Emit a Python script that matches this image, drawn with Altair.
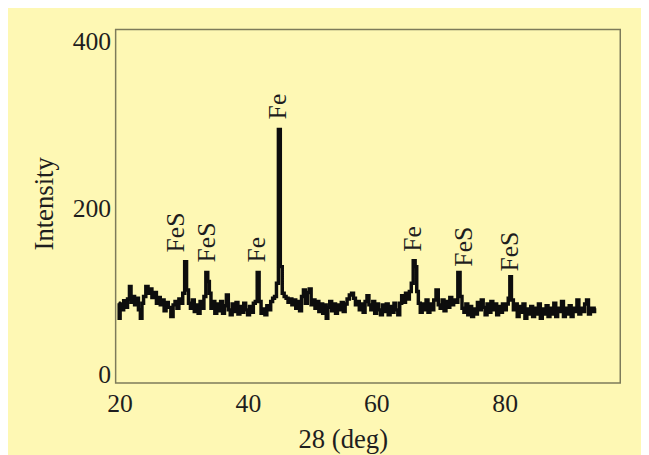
import altair as alt
import pandas as pd

two_theta = [
    19.9, 20.0, 20.2, 20.5, 20.8, 21.1, 21.4, 21.7, 21.9, 22.2,
    22.5, 22.8, 23.1, 23.4, 23.6, 23.9, 24.3, 24.6, 24.9, 25.2,
    25.6, 25.9, 26.2, 26.5, 26.8, 27.1, 27.4, 27.8, 28.2, 28.5,
    28.8, 29.1, 29.4, 29.7, 30.0, 30.3, 30.6, 30.9, 31.2, 31.5,
    31.8, 32.1, 32.4, 32.7, 33.0, 33.3, 33.6, 33.9, 34.1, 34.4,
    34.7, 35.0, 35.3, 35.6, 35.9, 36.2, 36.5, 36.8, 37.1, 37.4,
    37.7, 38.0, 38.3, 38.6, 38.9, 39.2, 39.5, 39.8, 40.1, 40.4,
    40.7, 41.0, 41.3, 41.6, 41.9, 42.2, 42.5, 42.8, 43.1, 43.4,
    43.7, 44.0, 44.3, 44.6, 44.9, 45.2, 45.5, 45.8, 46.1, 46.4,
    46.7, 47.0, 47.3, 47.6, 47.9, 48.2, 48.5, 48.8, 49.1, 49.4,
    49.7, 50.0, 50.3, 50.6, 50.9, 51.2, 51.5, 51.8, 52.1, 52.3,
    52.6, 52.9, 53.2, 53.5, 53.8, 54.1, 54.4, 54.7, 55.0, 55.3,
    55.6, 56.0, 56.3, 56.6, 56.9, 57.2, 57.5, 57.8, 58.1, 58.4,
    58.7, 59.0, 59.3, 59.6, 59.9, 60.2, 60.5, 60.8, 61.1, 61.4,
    61.7, 62.0, 62.3, 62.6, 62.9, 63.2, 63.5, 63.8, 64.1, 64.4,
    64.7, 65.0, 65.3, 65.6, 65.9, 66.2, 66.4, 66.7, 67.0, 67.3,
    67.6, 67.9, 68.2, 68.5, 68.8, 69.1, 69.5, 69.8, 70.1, 70.4,
    70.7, 71.0, 71.3, 71.6, 71.9, 72.2, 72.5, 72.9, 73.2, 73.5,
    73.8, 74.1, 74.4, 74.7, 75.0, 75.3, 75.6, 75.9, 76.2, 76.5,
    76.8, 77.1, 77.4, 77.7, 78.0, 78.3, 78.6, 78.9, 79.2, 79.5,
    79.8, 80.1, 80.4, 80.7, 80.9, 81.2, 81.5, 81.8, 82.1, 82.4,
    82.7, 83.0, 83.3, 83.6, 83.9, 84.2, 84.5, 84.8, 85.1, 85.4,
    85.7, 86.0, 86.3, 86.6, 86.9, 87.2, 87.5, 87.8, 88.1, 88.4,
    88.7, 89.0, 89.3, 89.6, 89.9, 90.2, 90.5, 90.8, 91.1, 91.4,
    91.7, 92.0, 92.3, 92.6, 92.9, 93.2, 93.5, 93.8, 94.2,
]

intensity = [
    86, 68, 85, 78, 89, 81, 91, 106, 87, 94,
    84, 92, 78, 68, 86, 94, 106, 98, 103, 93,
    99, 86, 93, 84, 90, 77, 87, 81, 70, 84,
    88, 80, 91, 86, 98, 136, 102, 86, 80, 90,
    76, 84, 74, 88, 80, 94, 123, 112, 98, 80,
    88, 74, 85, 77, 88, 74, 83, 96, 78, 72,
    85, 76, 87, 73, 82, 75, 86, 78, 72, 82,
    75, 86, 88, 123, 88, 74, 79, 72, 83, 78,
    88, 92, 94, 110, 295, 130, 98, 94, 92, 87,
    91, 84, 90, 80, 88, 77, 94, 102, 86, 99,
    103, 84, 90, 80, 88, 76, 85, 74, 84, 68,
    81, 88, 77, 85, 74, 84, 78, 87, 76, 85,
    91, 96, 98, 92, 84, 88, 78, 85, 75, 88,
    95, 84, 78, 88, 74, 85, 78, 72, 84, 76,
    85, 72, 82, 75, 86, 78, 72, 86, 95, 87,
    98, 91, 100, 110, 137, 130, 100, 86, 75, 85,
    78, 90, 75, 85, 78, 90, 102, 84, 80, 90,
    77, 88, 81, 93, 84, 90, 87, 123, 94, 80,
    75, 85, 72, 82, 70, 79, 73, 87, 78, 90,
    81, 72, 85, 75, 88, 78, 85, 72, 82, 75,
    85, 78, 85, 92, 118, 90, 78, 85, 70, 82,
    75, 85, 68, 79, 73, 82, 70, 80, 73, 85,
    68, 79, 73, 83, 70, 80, 73, 86, 70, 80,
    76, 88, 70, 80, 73, 83, 70, 80, 76, 90,
    73, 80, 76, 85, 90, 73, 80, 76, 80,
]

peak_labels = ["FeS", "FeS", "Fe", "Fe", "Fe", "FeS", "FeS"]
peak_label_x = [28.8, 33.6, 41.5, 44.7, 65.8, 73.7, 80.9]
peak_label_y = [147, 135, 135, 307, 148, 130, 124]

x_ticks = [20, 40, 60, 80]
y_ticks = [0, 200, 400]

df = pd.DataFrame({"two_theta": two_theta, "intensity": intensity})
lab = pd.DataFrame({"two_theta": peak_label_x, "intensity": peak_label_y, "label": peak_labels})

SERIF = "Liberation Serif"
TXT = "#1e1e1e"

x_enc = alt.X(
    "two_theta:Q",
    scale=alt.Scale(domain=[19.4, 98], nice=False, zero=False),
    axis=alt.Axis(
        values=x_ticks, title="28 (deg)", labelPadding=8,
        titleX=230, titleY=57, titleAlign="center", titleBaseline="middle",
    ),
)
y_enc = alt.Y(
    "intensity:Q",
    scale=alt.Scale(domain=[-10, 415], nice=False, zero=False),
    axis=alt.Axis(
        values=y_ticks, title="Intensity", labelPadding=5,
        titleX=-72, titleY=176, titleAngle=270, titleAlign="center", titleBaseline="middle",
    ),
)

line = alt.Chart(df).mark_line(
    color="#0d0d0d", strokeWidth=3.5, interpolate="step", clip=True
).encode(x=x_enc, y=y_enc)

text = alt.Chart(lab).mark_text(
    angle=270, align="left", baseline="middle", font=SERIF, fontSize=26, color=TXT
).encode(x="two_theta:Q", y="intensity:Q", text="label:N")

chart = (
    alt.layer(line, text)
    .properties(
        width=511,
        height=358,
        background="#FEF8B4",
        padding={"left": 109, "top": 19, "right": 21, "bottom": 70},
        autosize=alt.AutoSizeParams(type="none"),
    )
    .configure_view(stroke="#7D7B5A", strokeWidth=1.5)
    .configure_axis(
        domain=False, ticks=False, grid=False,
        labelFont=SERIF, labelFontSize=26, labelColor=TXT,
        titleFont=SERIF, titleFontSize=27, titleFontWeight="normal", titleColor=TXT,
    )
)

chart.save("out.html", embed_options={"renderer": "svg", "actions": False})
